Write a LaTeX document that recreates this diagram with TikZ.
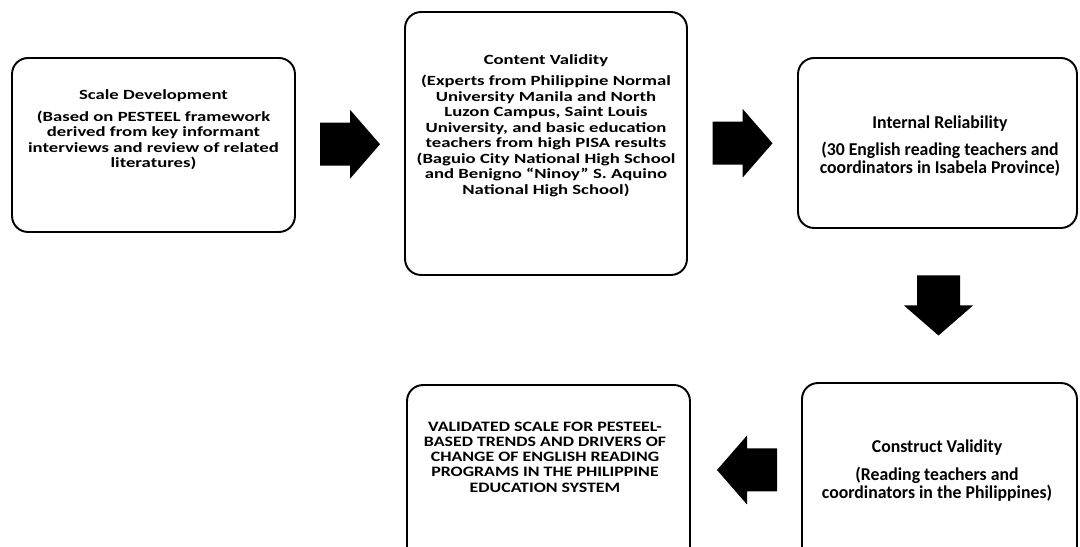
\documentclass[tikz,border=0pt]{standalone}
\usepackage{fontspec}
\setmainfont{Carlito}
\newfontfamily\widefont{Carlito}[FakeStretch=1.33]
\newfontfamily\capsfont{Carlito}[FakeStretch=1.24]
\newfontfamily\narrowfont{Carlito}[FakeStretch=0.98]
\usetikzlibrary{positioning,calc}

\tikzset{
  box/.style={draw, line width=1.1pt, rounded corners=0.32cm, inner sep=0pt},
  txt/.style={align=center, inner sep=0pt, font=\widefont\bfseries\fontsize{8}{8.8}\selectfont},
  txtcaps/.style={txt, font=\capsfont\bfseries\fontsize{8.2}{8.7}\selectfont},
  txtbig/.style={txt, font=\narrowfont\bfseries\fontsize{10.3}{10.2}\selectfont},
  blockarrow/.pic={
    \fill (-30,-21.5) -- (0,-21.5) -- (0,-34.5) -- (30,0) -- (0,34.5) -- (0,21.5) -- (-30,21.5) -- cycle;
  }
}

\begin{document}
\begin{tikzpicture}[x=0.02cm, y=-0.02cm]
\useasboundingbox (0,0) rectangle (1080,547);
\clip (0,0) rectangle (1080,547);

% boxes
\node[box, minimum width=5.66cm, minimum height=3.48cm] (b1) at (153.5,145) {};
\node[box, minimum width=5.64cm, minimum height=5.26cm] (b2) at (546,143.5) {};
\node[box, minimum width=5.58cm, minimum height=3.40cm] (b3) at (937.5,143) {};
\node[box, minimum width=5.66cm, minimum height=4.00cm] (b4) at (548.5,485) {};
\node[box, minimum width=5.50cm, minimum height=4.04cm] (b5) at (939.5,484) {};

% texts
\node[txt] (t1) at (153.5,130) {Scale Development\\[3.5pt]
  (Based on PESTEEL framework\\ derived from key informant\\
  interviews and review of related\\ literatures)};
\node[txt] (t2) at (546,125.5) {Content Validity\\[3.5pt]
  (Experts from Philippine Normal\\ University Manila and North\\
  Luzon Campus, Saint Louis\\ University, and basic education\\
  teachers from high PISA results\\ (Baguio City National High School\\
  and Benigno “Ninoy” S. Aquino\\ National High School)};
\node[txtbig] (t3) at (940,146) {Internal Reliability\\[5.7pt]
  (30 English reading teachers and\\ coordinators in Isabela Province)};
\node[txtcaps] (t4) at (545,457) {VALIDATED SCALE FOR PESTEEL-\\
  BASED TRENDS AND DRIVERS OF\\ CHANGE OF ENGLISH READING\\
  PROGRAMS IN THE PHILIPPINE\\ EDUCATION SYSTEM};
\node[txtbig] (t5) at (937,471) {Construct Validity\\[5.7pt]
  (Reading teachers and\\ coordinators in the Philippines)};

% arrows
\pic (a1) at ($(b1.east)!0.5!(b2.west)$) {blockarrow};
\pic (a2) at ($(b2.east)!0.5!(b3.west)$) {blockarrow};
\pic[rotate=-90] (a3) at ($(b3.south)!0.5!(b5.north)$) {blockarrow};
\pic[rotate=180] (a4) at (747,470) {blockarrow};
\end{tikzpicture}
\end{document}
